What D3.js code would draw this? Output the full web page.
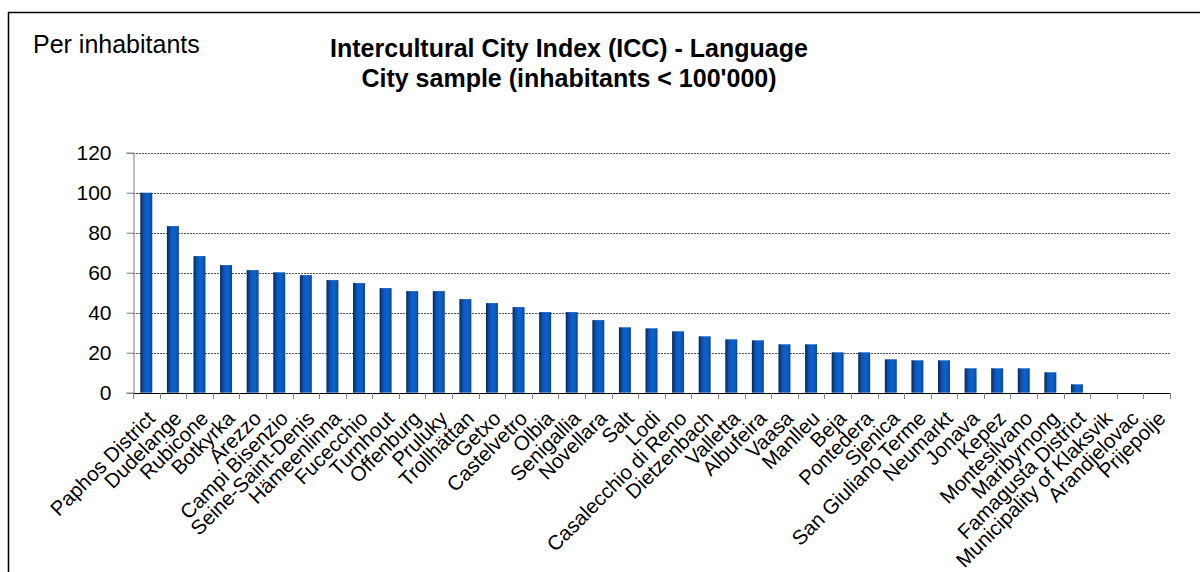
<!DOCTYPE html>
<html><head><meta charset="utf-8">
<script src="https://cdn.jsdelivr.net/npm/d3@7/dist/d3.min.js"></script>
<style>body{margin:0;background:#fff}svg{display:block}text{font-family:"Liberation Sans",Arial,sans-serif}</style>
</head><body>
<script>
const categories = ["Paphos District","Dudelange","Rubicone","Botkyrka","Arezzo","Campi Bisenzio","Seine-Saint-Denis","Hämeenlinna","Fucecchio","Turnhout","Offenburg","Pruluky","Trollhättan","Getxo","Castelvetro","Olbia","Senigallia","Novellara","Salt","Lodi","Casalecchio di Reno","Dietzenbach","Valletta","Albufeira","Vaasa","Manlleu","Beja","Pontedera","Sjenica","San Giuliano Terme","Neumarkt","Jonava","Kepez","Montesilvano","Maribyrnong","Famagusta District","Municipality of Klaksvik","Arandjelovac","Prijepolje"];
const values = [100,83.3,68.3,63.8,61.3,60.2,58.8,56.3,54.8,52.3,50.8,50.8,46.8,44.8,42.8,40.3,40.3,36.3,32.7,32.2,30.7,28.2,26.7,26.2,24.2,24.2,20.2,20.2,16.7,16.2,16.2,12.2,12.2,12.2,10.2,4.2,0,0,0];
const yTicks = [0,20,40,60,80,100,120];
const titleLines = ["Intercultural City Index (ICC) - Language","City sample (inhabitants < 100'000)"];
const cornerLabel = "Per inhabitants";

const W=1200,H=572;
const svg=d3.select("body").append("svg").attr("width",W).attr("height",H);
const defs=svg.append("defs");
const g=defs.append("linearGradient").attr("id","barGrad").attr("x1","0").attr("x2","1").attr("y1","0").attr("y2","0");
[[0,"#0b2550"],[0.3,"#0a55b5"],[0.6,"#0b62cf"],[0.85,"#0a57ba"],[1,"#0e3f88"]].forEach(([o,c])=>g.append("stop").attr("offset",o).attr("stop-color",c));

svg.append("path").attr("d","M8.5,572 L8.5,12.5 L1200,12.5").attr("fill","none").attr("stroke","#000").attr("stroke-width",1.5);

const x=d3.scaleBand().domain(categories).range([133,1170]).paddingInner(0.55).paddingOuter(0.275);
const xb=d3.scaleBand().domain(categories).range([133,1170]);
const y=d3.scaleLinear().domain([0,120]).range([392.7,152.7]);

svg.append("g").selectAll("line").data(yTicks.filter(d=>d>0)).join("line")
 .attr("x1",133).attr("x2",1170).attr("y1",d=>Math.round(y(d))+0.5).attr("y2",d=>Math.round(y(d))+0.5)
 .attr("stroke","#555").attr("stroke-dasharray","2,1");

const yAxis=d3.axisLeft(y).tickValues(yTicks).tickSize(7).tickPadding(13);
const ya=svg.append("g").attr("transform","translate(133.5,0)").call(yAxis);
ya.select(".domain").attr("stroke","#808080");
ya.selectAll(".tick line").attr("stroke","#808080");
ya.selectAll(".tick text").attr("font-size",21).attr("fill","#000").attr("x",-22);

svg.append("g").selectAll("rect").data(values.map((v,i)=>({c:categories[i],v}))).join("rect")
 .attr("x",d=>x(d.c)).attr("width",x.bandwidth())
 .attr("y",d=>y(d.v)).attr("height",d=>y(0)-y(d.v))
 .attr("fill","url(#barGrad)");

const xg=svg.append("g");
xg.append("line").attr("x1",133).attr("x2",1170).attr("y1",Math.round(y(0))+0.5).attr("y2",Math.round(y(0))+0.5).attr("stroke","#000");
const bounds=categories.map(c=>xb(c)).concat([1170]);
xg.selectAll("line.t").data(bounds).join("line").attr("class","t")
 .attr("x1",d=>Math.round(d)+0.5).attr("x2",d=>Math.round(d)+0.5)
 .attr("y1",Math.round(y(0))).attr("y2",Math.round(y(0))+6).attr("stroke","#808080");
xg.selectAll("text").data(categories).join("text")
 .attr("transform",c=>`translate(${xb(c)+xb.bandwidth()/2+10},${y(0)+27}) rotate(-45)`)
 .attr("text-anchor","end").attr("font-size",20.5).text(c=>c);

svg.append("text").attr("x",33).attr("y",53).attr("font-size",25).text(cornerLabel);
svg.selectAll("text.title").data(titleLines).join("text").attr("class","title")
 .attr("x",569).attr("y",(d,i)=>57+i*30).attr("text-anchor","middle")
 .attr("font-size",25).attr("font-weight","bold").text(d=>d);
</script>
</body></html>
